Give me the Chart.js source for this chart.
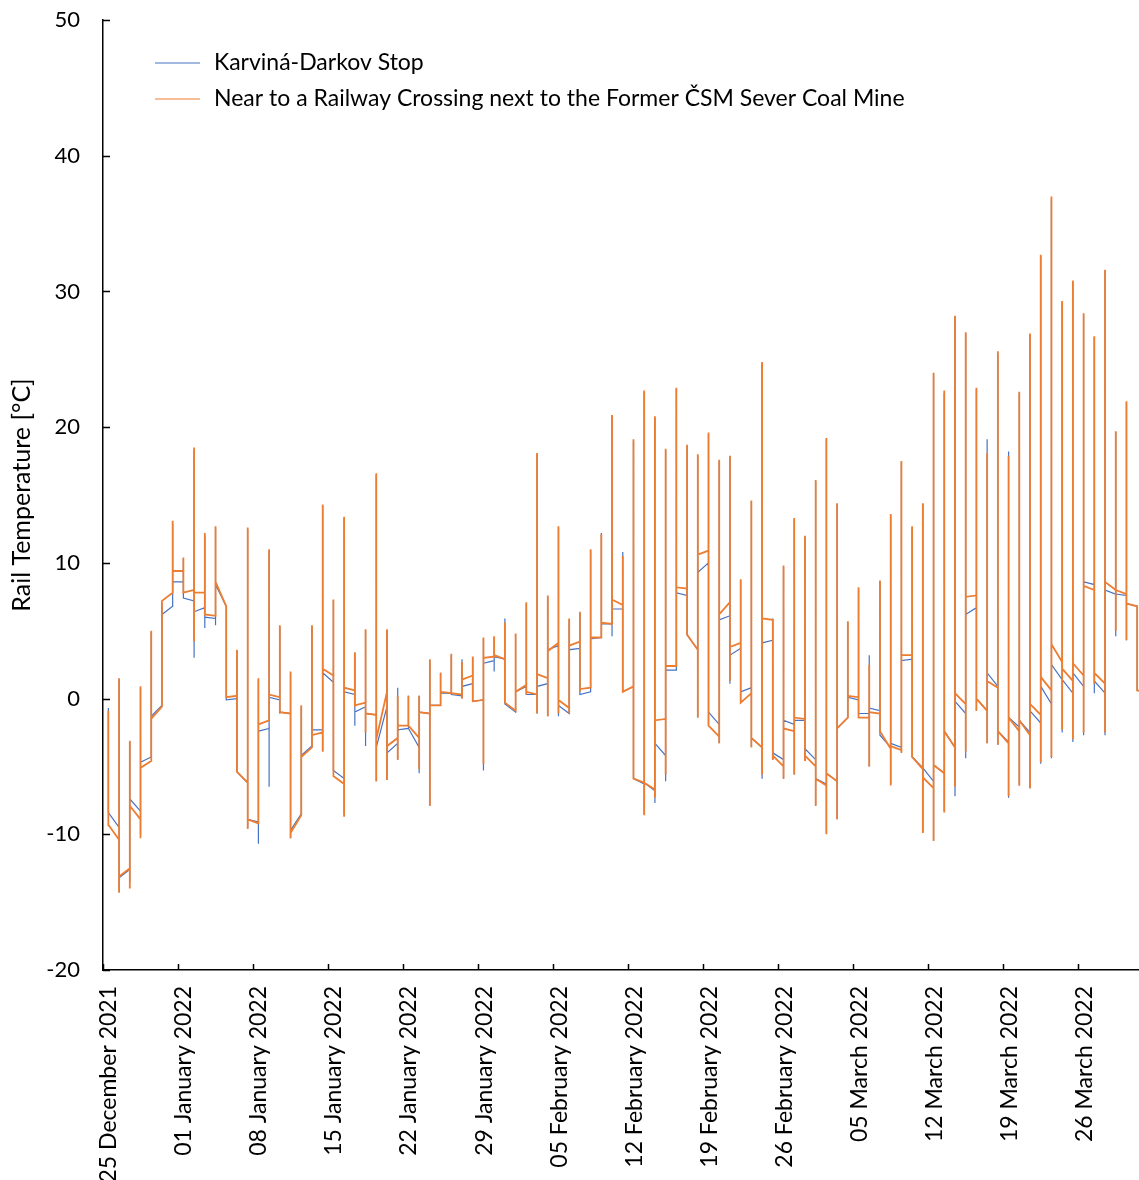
<!DOCTYPE html>
<html>
<head>
<meta charset="utf-8">
<script src="https://cdn.jsdelivr.net/npm/chart.js@4"></script>
<style>
  html, body { margin: 0; padding: 0; background: #fff; }
  #wrap { width: 1139px; height: 1180px; }
</style>
</head>
<body>
<div id="wrap"><canvas id="railChart" width="1139" height="1180"></canvas></div>
<script>
// days counted from 25 December 2021, one tick per week
const tickDays = [0, 7, 14, 21, 28, 35, 42, 49, 56, 63, 70, 77, 84, 91];
const tickLabels = ['25 December 2021', '01 January 2022', '08 January 2022', '15 January 2022',
  '22 January 2022', '29 January 2022', '05 February 2022', '12 February 2022', '19 February 2022',
  '26 February 2022', '05 March 2022', '12 March 2022', '19 March 2022', '26 March 2022'];

// daily readings (first, lowest, highest, last) - Karviná-Darkov Stop
const karvinaOpen = [-0.8, -9.5, -12.6, -8.3, -4.3, -0.5, 6.8, 8.6, 7.2, 6.7,
  5.9, 6.8, 0.0, -6.2, -9.1, -2.2, -0.1, -1.1, -8.5, -3.5,
  -2.3, 1.2, -5.9, 0.3, -0.6, -1.2, -0.6, -3.3, -2.2, -3.6,
  -1.1, -0.5, 0.4, 0.2, 1.1, -0.1, 2.8, 2.9, -1.0, 0.9,
  0.3, 1.1, 3.9, -1.1, 3.7, 0.5, 4.5, 5.5, 6.6, 0.9,
  -6.3, -6.8, -4.2, 2.1, 7.6, 3.6, 10.0, -1.9, 6.1, 3.7,
  0.8, -3.6, 4.3, -4.5, -1.9, -1.6, -4.5, -6.3, -6.1, -1.4,
  -0.1, -1.1, -0.9, -3.6, -3.6, 2.9, -5.1, -6.1, -5.5, -3.6,
  -1.1, 6.7, -0.9, 0.9, -3.2, -2.1, -2.5, -1.8, -0.4, 1.4,
  0.4, 0.9, 8.4, 0.4, 7.7, 7.6, 6.8, 0.5];
const karvinaLow = [-8.4, -14.2, -13.5, -10.0, -4.3, -0.5, 6.8, 7.4, 3.0, 5.2,
  5.4, -0.1, -5.4, -9.6, -10.7, -6.5, -1.1, -10.3, -8.5, -3.5,
  -3.9, -5.3, -8.6, -2.0, -3.5, -6.1, -6.0, -4.5, -2.2, -5.5,
  -7.9, -0.5, 0.3, 0.0, -0.2, -5.3, 2.0, -0.4, -1.0, 0.3,
  -1.1, -1.3, -1.3, -1.1, 0.3, 0.5, 4.5, 4.6, 0.5, -5.9,
  -8.5, -7.7, -6.1, 2.1, 4.7, -1.4, -2.0, -3.3, 1.1, -0.3,
  -3.5, -5.9, -4.5, -5.9, -5.6, -4.6, -7.9, -9.9, -8.9, -1.4,
  -1.1, -5.0, -2.7, -6.3, -4.0, -4.3, -9.8, -10.4, -8.3, -7.2,
  -4.4, -0.9, -3.3, -3.4, -7.3, -6.4, -6.6, -4.8, -4.4, -2.5,
  -3.2, -2.7, 0.4, -2.7, 4.6, 4.3, 0.6, 0.5];
const karvinaHigh = [-0.7, 1.4, -3.2, 0.8, 4.9, 7.0, 12.9, 10.3, 18.3, 12.0,
  12.6, 6.8, 3.5, 12.5, 1.4, 10.9, 5.3, 1.9, -0.6, 5.3,
  14.2, 7.2, 13.3, 3.4, 5.0, 16.5, 5.0, 0.8, 0.2, 0.2,
  2.8, 1.9, 3.2, 2.9, 3.0, 4.4, 4.5, 5.9, 4.7, 7.0,
  18.0, 7.5, 12.6, 5.8, 6.3, 10.9, 12.2, 20.8, 10.8, 19.0,
  22.6, 20.7, 18.3, 22.8, 18.6, 17.9, 19.5, 17.5, 17.8, 8.7,
  14.5, 24.7, 5.9, 9.7, 13.2, 11.9, 16.0, 19.1, 14.3, 5.6,
  8.1, 3.2, 8.6, 13.5, 17.4, 12.6, 14.3, 23.9, 22.5, 28.1,
  26.9, 22.8, 19.1, 25.4, 18.2, 22.5, 26.8, 32.6, 36.8, 29.2,
  30.7, 28.3, 26.6, 31.5, 19.6, 21.8, 6.8, 0.5];
const karvinaClose = [-8.4, -13.2, -7.4, -4.7, -1.3, 6.2, 8.6, 7.4, 6.4, 6.0,
  8.4, -0.1, -5.4, -8.9, -2.4, 0.1, -1.0, -9.7, -4.2, -2.3,
  1.9, -5.3, 0.5, -1.0, -1.1, -3.6, -4.0, -2.3, -2.2, -1.0,
  -0.5, 0.4, 0.3, 0.9, -0.2, 2.6, 3.1, -0.4, 0.5, 0.3,
  0.9, 3.6, -0.5, 3.6, 0.3, 4.4, 5.5, 6.6, 0.5, -5.9,
  -6.2, -3.3, 2.1, 7.8, 4.7, 9.3, -1.0, 5.8, 3.2, 0.5,
  -2.9, 4.1, -4.0, -1.6, -1.6, -3.7, -5.9, -5.5, -2.2, 0.1,
  -1.1, -0.7, -2.7, -3.3, 2.8, -4.3, -5.1, -4.9, -2.4, -0.2,
  6.2, 0.0, 1.9, -2.4, -1.4, -1.6, -0.9, 0.9, 2.5, 1.4,
  1.9, 8.6, 1.3, 8.0, 7.7, 7.0, 0.6, 0.5];

// daily readings - near the railway crossing by the former ČSM Sever mine
const crossingOpen = [-0.9, -10.4, -12.5, -8.9, -4.6, -0.6, 7.8, 9.4, 8.0, 7.8,
  6.1, 6.8, 0.2, -6.2, -9.2, -1.6, 0.1, -1.1, -8.6, -3.6,
  -2.5, 1.7, -6.3, 0.6, -0.3, -1.2, 0.5, -2.9, -2.0, -2.9,
  -1.1, -0.5, 0.4, 0.3, 1.7, -0.1, 3.1, 2.9, -0.9, 1.0,
  0.3, 1.5, 4.1, -0.7, 4.2, 0.8, 4.5, 5.5, 6.9, 0.9,
  -6.2, -6.7, -1.5, 2.4, 8.1, 3.6, 10.9, -2.8, 7.1, 4.1,
  0.4, -3.6, 5.8, -5.0, -2.4, -1.5, -5.0, -6.4, -6.1, -1.4,
  0.1, -1.4, -1.1, -3.7, -3.8, 3.2, -5.2, -6.6, -5.5, -3.6,
  -0.4, 7.6, -0.9, 0.8, -3.3, -2.4, -2.7, -1.2, 0.6, 2.7,
  1.3, 1.7, 8.0, 1.1, 8.0, 7.7, 6.8, 0.5];
const crossingLow = [-9.4, -14.3, -14.0, -10.3, -4.6, -0.6, 7.8, 7.8, 4.2, 6.1,
  6.1, 0.1, -5.4, -9.6, -9.2, -1.6, -1.1, -10.3, -8.6, -3.6,
  -3.9, -5.7, -8.7, -0.6, -2.5, -6.1, -6.0, -4.5, -2.0, -5.2,
  -7.9, -0.5, 0.4, 0.0, -0.2, -4.8, 3.0, -0.3, -0.9, 0.3,
  -1.1, -1.3, -1.1, -1.1, 0.5, 0.8, 4.5, 5.5, 0.5, -5.9,
  -8.6, -7.3, -5.6, 2.4, 4.7, -1.4, -2.0, -3.3, 1.3, -0.3,
  -3.6, -5.6, -4.5, -5.9, -5.6, -4.6, -7.9, -10.0, -8.9, -1.4,
  -1.4, -5.0, -2.4, -6.4, -4.0, -4.3, -9.9, -10.5, -8.4, -6.5,
  -3.9, -0.9, -3.3, -3.4, -7.2, -6.4, -6.6, -4.7, -4.3, -2.3,
  -3.0, -2.5, 1.1, -2.5, 5.0, 4.3, 0.6, 0.5];
const crossingHigh = [-0.9, 1.5, -3.1, 0.9, 5.0, 7.2, 13.1, 10.4, 18.5, 12.2,
  12.7, 6.8, 3.6, 12.6, 1.5, 11.0, 5.4, 2.0, -0.5, 5.4,
  14.3, 7.3, 13.4, 3.4, 5.1, 16.6, 5.1, 0.2, 0.2, 0.2,
  2.9, 1.9, 3.3, 2.7, 3.1, 4.5, 4.6, 5.6, 4.8, 7.1,
  18.1, 7.6, 12.7, 5.9, 6.4, 11.0, 12.1, 20.9, 10.5, 19.1,
  22.7, 20.8, 18.4, 22.9, 18.7, 18.0, 19.6, 17.6, 17.9, 8.8,
  14.6, 24.8, 5.8, 9.8, 13.3, 12.0, 16.1, 19.2, 14.4, 5.7,
  8.2, 2.5, 8.7, 13.6, 17.5, 12.7, 14.4, 24.0, 22.7, 28.2,
  27.0, 22.9, 18.1, 25.6, 17.9, 22.6, 26.9, 32.7, 37.0, 29.3,
  30.8, 28.4, 26.7, 31.6, 19.7, 21.9, 6.8, 0.5];
const crossingClose = [-9.3, -13.1, -7.9, -5.1, -1.5, 7.2, 9.4, 7.8, 7.8, 6.2,
  8.6, 0.1, -5.4, -8.9, -1.9, 0.3, -1.0, -9.9, -4.3, -2.7,
  2.2, -5.7, 0.8, -0.5, -1.1, -3.0, -3.5, -2.0, -2.0, -1.0,
  -0.5, 0.5, 0.4, 1.4, -0.2, 3.0, 3.2, -0.3, 0.5, 0.5,
  1.8, 3.5, -0.1, 3.9, 0.7, 4.5, 5.6, 7.3, 0.5, -5.9,
  -6.2, -1.6, 2.4, 8.2, 4.7, 10.6, -2.0, 6.2, 3.8, -0.3,
  -2.9, 5.9, -4.2, -2.2, -1.4, -4.2, -5.9, -5.5, -2.2, 0.2,
  -1.4, -1.0, -2.4, -3.5, 3.2, -4.3, -5.8, -4.9, -2.4, 0.4,
  7.5, 0.0, 1.3, -2.4, -1.4, -1.6, -0.4, 1.6, 4.0, 2.2,
  2.6, 8.3, 1.9, 8.6, 8.0, 7.0, 0.6, 0.5];

// every reading of a day sits on the same x, so each day becomes a vertical stroke
function dayPoints(open, low, high, close) {
  const pts = [];
  open.forEach((v, i) => {
    const x = i + 0.5;
    pts.push({ x, y: v }, { x, y: low[i] }, { x, y: high[i] }, { x, y: close[i] });
  });
  return pts;
}

// tick marks inside the plot, like the spreadsheet original
const innerTicks = {
  id: 'innerTicks',
  afterDraw(chart) {
    const { ctx, chartArea, scales } = chart;
    ctx.save();
    ctx.strokeStyle = '#000';
    ctx.lineWidth = 1.5;
    ctx.beginPath();
    scales.y.ticks.forEach(t => {
      const py = Math.round(scales.y.getPixelForValue(t.value)) + 0.5;
      ctx.moveTo(chartArea.left, py);
      ctx.lineTo(chartArea.left + 7, py);
    });
    scales.x.ticks.forEach(t => {
      const px = Math.round(scales.x.getPixelForValue(t.value)) + 0.5;
      ctx.moveTo(px, chartArea.bottom);
      ctx.lineTo(px, chartArea.bottom - 6);
    });
    ctx.stroke();
    ctx.restore();
  }
};

// legend sitting inside the plot area, top left
const insideLegend = {
  id: 'insideLegend',
  afterDraw(chart) {
    const { ctx, chartArea } = chart;
    ctx.save();
    ctx.font = '23px Lato';
    ctx.textBaseline = 'middle';
    ctx.textAlign = 'left';
    chart.data.datasets.forEach((ds, i) => {
      const x = chartArea.left + 52;
      const y = chartArea.top + 43 + i * 36;
      ctx.strokeStyle = ds.borderColor;
      ctx.lineWidth = 1.2;
      ctx.beginPath();
      ctx.moveTo(x, y);
      ctx.lineTo(x + 45, y);
      ctx.stroke();
      ctx.fillStyle = '#000';
      ctx.fillText(ds.label, x + 59, y);
    });
    ctx.restore();
  }
};

const ctx = document.getElementById('railChart').getContext('2d');
new Chart(ctx, {
  type: 'line',
  data: {
    datasets: [
      {
        label: 'Karviná-Darkov Stop',
        data: dayPoints(karvinaOpen, karvinaLow, karvinaHigh, karvinaClose),
        borderColor: '#4472C4',
        borderWidth: 1.2,
        order: 2
      },
      {
        label: 'Near to a Railway Crossing next to the Former ČSM Sever Coal Mine',
        data: dayPoints(crossingOpen, crossingLow, crossingHigh, crossingClose),
        borderColor: '#ED7D31',
        borderWidth: 1.8,
        order: 1
      }
    ]
  },
  options: {
    responsive: false,
    animation: false,
    devicePixelRatio: 1,
    layout: { padding: { top: 20, left: 0, right: 0, bottom: 0 } },
    elements: { point: { radius: 0 }, line: { tension: 0 } },
    plugins: {
      legend: { display: false },
      tooltip: { enabled: false }
    },
    scales: {
      x: {
        type: 'linear',
        min: 0,
        max: 96.67,
        grid: { display: false, drawTicks: false },
        border: { display: true, color: '#000', width: 1.5 },
        afterBuildTicks: (scale) => { scale.ticks = tickDays.map(v => ({ value: v })); },
        afterFit: (scale) => { scale.height = 210; },
        ticks: {
          autoSkip: false,
          minRotation: 90,
          maxRotation: 90,
          padding: 16,
          labelOffset: 6,
          color: '#000',
          font: { family: 'Lato', size: 23 },
          callback: (value) => tickLabels[tickDays.indexOf(value)]
        }
      },
      y: {
        min: -20,
        max: 50,
        grid: { display: false, drawTicks: false },
        border: { display: true, color: '#000', width: 1.5 },
        afterFit: (scale) => {
          scale.width = 103;
          scale.paddingTop = 0;
          scale.paddingBottom = 0;
        },
        ticks: {
          stepSize: 10,
          padding: 23,
          color: '#000',
          font: { family: 'Lato', size: 22 }
        },
        title: {
          display: true,
          text: 'Rail Temperature [°C]',
          color: '#000',
          font: { family: 'Lato', size: 25 },
          padding: { top: 7, bottom: 0 }
        }
      }
    }
  },
  plugins: [innerTicks, insideLegend]
});
</script>
</body>
</html>
